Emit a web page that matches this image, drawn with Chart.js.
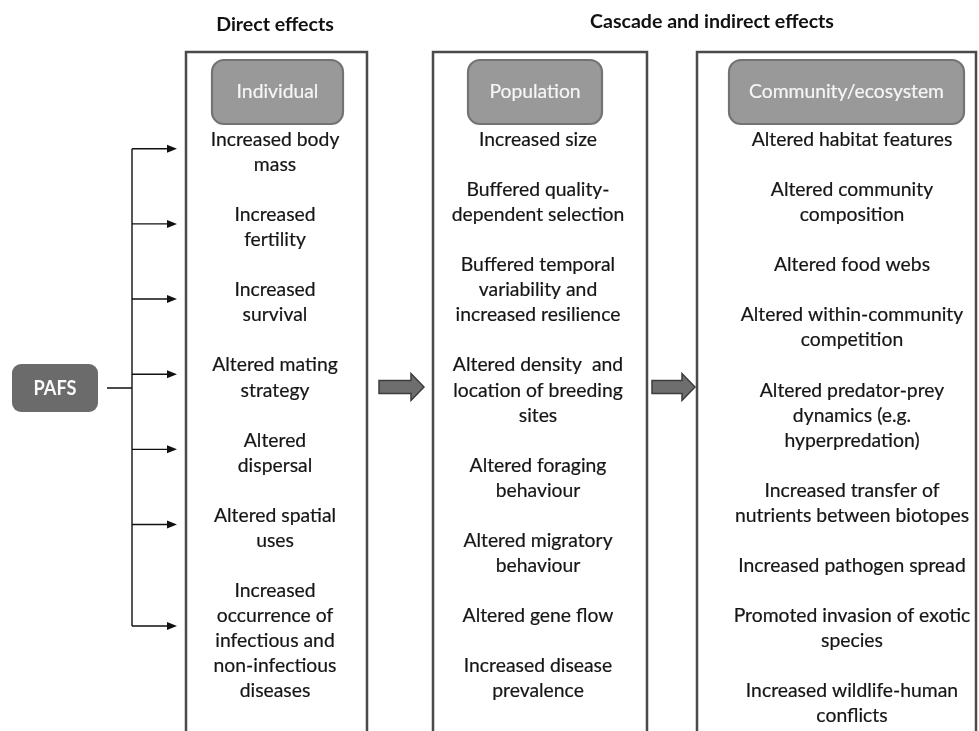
<!DOCTYPE html>
<html>
<head>
<meta charset="utf-8">
<script src="https://cdn.jsdelivr.net/npm/chart.js@4.4.1/dist/chart.umd.min.js"></script>
<style>
    html, body { margin: 0; padding: 0; background: #fff; }
    #wrap { width: 979px; height: 731px; }
</style>
</head>
<body>
<div id="wrap"><canvas id="diagram" width="979" height="731"></canvas></div>
<script>
// --- data ---
const groupHeadings = ['Direct effects', 'Cascade and indirect effects'];
const levelTitles = ['Individual', 'Population', 'Community/ecosystem'];
const driverLabel = 'PAFS';

const individualEffects = [
    'Increased body\nmass',
    'Increased\nfertility',
    'Increased\nsurvival',
    'Altered mating\nstrategy',
    'Altered\ndispersal',
    'Altered spatial\nuses',
    'Increased\noccurrence of\ninfectious and\nnon-infectious\ndiseases'
];
const populationEffects = [
    'Increased size',
    'Buffered quality-\ndependent selection',
    'Buffered temporal\nvariability and\nincreased resilience',
    'Altered density  and\nlocation of breeding\nsites',
    'Altered foraging\nbehaviour',
    'Altered migratory\nbehaviour',
    'Altered gene flow',
    'Increased disease\nprevalence'
];
const communityEffects = [
    'Altered habitat features',
    'Altered community\ncomposition',
    'Altered food webs',
    'Altered within-community\ncompetition',
    'Altered predator-prey\ndynamics (e.g.\nhyperpredation)',
    'Increased transfer of\nnutrients between biotopes',
    'Increased pathogen spread',
    'Promoted invasion of exotic\nspecies',
    'Increased wildlife-human\nconflicts'
];
const columnItems = [individualEffects, populationEffects, communityEffects];

// --- layout (in the 979 x 731 value space of the hidden axes) ---
const FONT = 'Lato, "Open Sans", sans-serif';
const layout = {
    boxTop: 52,
    columns: [
        { left: 186, right: 367, textX: 275, head: [212, 343] },
        { left: 433, right: 647, textX: 538, head: [468, 602] },
        { left: 697, right: 976, textX: 852, head: [729, 964] }
    ],
    headTop: 60, headBottom: 124,
    firstLine: 140, lineH: 25.05,
    headingX: [275, 712], headingY: [25, 22],
    driver: { x0: 12, x1: 98, y0: 364, y1: 412 },
    spineX: 132, arrowTip: 177,
    blockArrows: [[379, 424], [652, 695]], blockY: 387
};

// font styles: size chosen for cap height, squeeze chosen so a sample line has the figure's width;
// with no size given the size itself is fitted to the width
function makeStyle(ctx, weight, size, sample, width) {
    if (!size) {
        ctx.font = `${weight} 100px ${FONT}`;
        size = 100 * width / ctx.measureText(sample).width;
        ctx.font = `${weight} ${size}px ${FONT}`;
        return { font: ctx.font, sx: 1 };
    }
    ctx.font = `${weight} ${size}px ${FONT}`;
    return { font: ctx.font, sx: width / ctx.measureText(sample).width };
}

function drawText(ctx, style, text, x, y, color, bolden) {
    ctx.save();
    ctx.translate(x, y);
    ctx.scale(style.sx, 1);
    ctx.font = style.font;
    ctx.fillStyle = color;
    ctx.fillText(text, 0, 0);
    if (bolden) {
        ctx.strokeStyle = color;
        ctx.lineWidth = bolden;
        ctx.strokeText(text, 0, 0);
    }
    ctx.restore();
}

const diagramPlugin = {
    id: 'diagram',
    afterDraw(chart) {
        const ctx = chart.ctx;
        const sx = chart.scales.x, sy = chart.scales.y;
        const px = v => sx.getPixelForValue(v);
        const py = v => sy.getPixelForValue(v);
        const L = layout;

        const body = makeStyle(ctx, 'normal', 18.6, 'nutrients between biotopes', 234);
        const head = makeStyle(ctx, 'normal', 19.5, 'Community/ecosystem', 195);
        const title = makeStyle(ctx, 'bold', 0, 'Cascade and indirect effects', 244);
        const drv = makeStyle(ctx, 'bold', 21.5, driverLabel, 43);

        ctx.save();
        ctx.textAlign = 'center';
        ctx.textBaseline = 'middle';

        // group headings
        groupHeadings.forEach((t, i) =>
            drawText(ctx, title, t, px(L.headingX[i]), py(L.headingY[i]), '#111', 0));

        L.columns.forEach((col, c) => {
            // open-bottom frame
            ctx.strokeStyle = '#4a4a4a';
            ctx.lineWidth = 2.5;
            ctx.beginPath();
            ctx.moveTo(px(col.left), py(740));
            ctx.lineTo(px(col.left), py(L.boxTop));
            ctx.lineTo(px(col.right), py(L.boxTop));
            ctx.lineTo(px(col.right), py(740));
            ctx.stroke();

            // level title box
            ctx.beginPath();
            ctx.roundRect(px(col.head[0]), py(L.headTop), px(col.head[1]) - px(col.head[0]),
                py(L.headBottom) - py(L.headTop), 12);
            ctx.fillStyle = '#999999';
            ctx.fill();
            ctx.strokeStyle = '#737373';
            ctx.lineWidth = 2.2;
            ctx.stroke();
            drawText(ctx, head, levelTitles[c], px((col.head[0] + col.head[1]) / 2), py(92), '#f6f6f6', 0.2);

            // effect items, one blank line between items
            let k = 0;
            columnItems[c].forEach(item => {
                item.split('\n').forEach(line => {
                    drawText(ctx, body, line, px(col.textX), py(L.firstLine + k * L.lineH), '#161616', 0.2);
                    k++;
                });
                k++;
            });
        });

        // driver box
        const d = L.driver;
        ctx.beginPath();
        ctx.roundRect(px(d.x0), py(d.y0), px(d.x1) - px(d.x0), py(d.y1) - py(d.y0), 9);
        ctx.fillStyle = '#6b6b6b';
        ctx.fill();
        drawText(ctx, drv, driverLabel, px((d.x0 + d.x1) / 2), py((d.y0 + d.y1) / 2), '#fafafa', 0);

        // arrows to each individual-level effect
        const arrowYs = [];
        let k = 0;
        individualEffects.forEach(item => {
            const n = item.split('\n').length;
            arrowYs.push(L.firstLine + (k + (n - 1) * 0.35) * L.lineH);
            k += n + 1;
        });
        const midY = (d.y0 + d.y1) / 2;
        ctx.strokeStyle = '#111';
        ctx.fillStyle = '#111';
        ctx.lineWidth = 1.4;
        ctx.beginPath();
        ctx.moveTo(px(d.x1 + 9), py(midY));
        ctx.lineTo(px(L.spineX), py(midY));
        ctx.moveTo(px(L.spineX), py(arrowYs[0]));
        ctx.lineTo(px(L.spineX), py(arrowYs[arrowYs.length - 1]));
        ctx.stroke();
        arrowYs.forEach(y => {
            ctx.beginPath();
            ctx.moveTo(px(L.spineX), py(y));
            ctx.lineTo(px(L.arrowTip - 8), py(y));
            ctx.stroke();
            ctx.beginPath();
            ctx.moveTo(px(L.arrowTip), py(y));
            ctx.lineTo(px(L.arrowTip - 10), py(y - 4));
            ctx.lineTo(px(L.arrowTip - 10), py(y + 4));
            ctx.closePath();
            ctx.fill();
        });

        // block arrows between levels
        L.blockArrows.forEach(([x0, x1]) => {
            const y = L.blockY, hs = x1 - 13;
            ctx.beginPath();
            ctx.moveTo(px(x0), py(y - 6.5));
            ctx.lineTo(px(hs), py(y - 6.5));
            ctx.lineTo(px(hs), py(y - 13.5));
            ctx.lineTo(px(x1), py(y));
            ctx.lineTo(px(hs), py(y + 13.5));
            ctx.lineTo(px(hs), py(y + 6.5));
            ctx.lineTo(px(x0), py(y + 6.5));
            ctx.closePath();
            ctx.fillStyle = '#6e6e6e';
            ctx.fill();
            ctx.strokeStyle = '#3c3c3c';
            ctx.lineWidth = 1.5;
            ctx.stroke();
        });

        ctx.restore();
    }
};

new Chart(document.getElementById('diagram').getContext('2d'), {
    type: 'scatter',
    data: { datasets: [] },
    options: {
        responsive: false,
        animation: false,
        layout: { padding: 0 },
        plugins: { legend: { display: false }, tooltip: { enabled: false } },
        scales: {
            x: { type: 'linear', min: 0, max: 979, display: false },
            y: { type: 'linear', min: 0, max: 731, reverse: true, display: false }
        }
    },
    plugins: [diagramPlugin]
});
</script>
</body>
</html>
